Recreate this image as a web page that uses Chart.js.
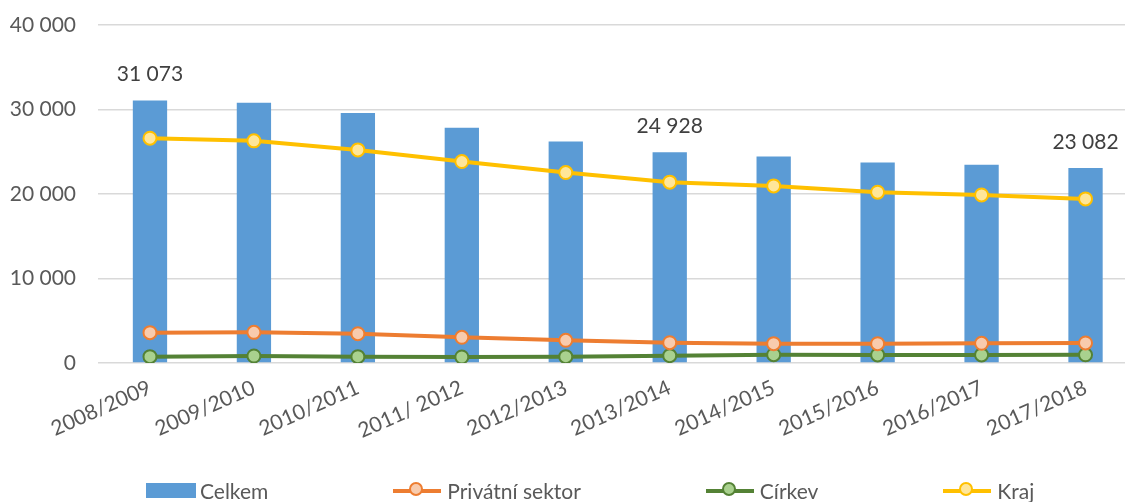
<!doctype html>
<html lang="cs">
<head>
    <meta charset="UTF-8" />
    <title>Celkem / Privátní sektor / Církev / Kraj</title>
    <style>
        html, body {
            margin: 0;
            overflow: hidden;
            background: #fff;
            font-family: 'Lato', sans-serif;
        }
        .chart-box {
            position: relative;
            width: 1146px;
            height: 502px;
        }
        .legend {
            position: absolute;
            left: 146px;
            top: 478px;
            display: flex;
            gap: 125px;
            font-size: 21px;
            color: #595959;
        }
        .legend .item {
            display: flex;
            align-items: center;
        }
        .legend .box {
            width: 50px;
            height: 15px;
            margin-right: 4px;
        }
        .legend .line {
            position: relative;
            width: 48px;
            height: 4px;
            margin-right: 6px;
        }
        .legend .line span {
            position: absolute;
            left: 16px;
            top: -7px;
            width: 14px;
            height: 14px;
            border-radius: 50%;
            box-sizing: border-box;
            border: 2px solid;
        }
    </style>
</head>
<body>
    <div class="chart-box">
        <canvas id="chart" width="1146" height="502"></canvas>
        <div class="legend">
            <div class="item"><div class="box" style="background:#5b9bd5"></div>Celkem</div>
            <div class="item"><div class="line" style="background:#ed7d31"><span style="background:#f8cbad;border-color:#ed7d31"></span></div>Privátní sektor</div>
            <div class="item"><div class="line" style="background:#548235"><span style="background:#a9d18e;border-color:#548235"></span></div>Církev</div>
            <div class="item"><div class="line" style="background:#ffc000"><span style="background:#ffe699;border-color:#ffc000"></span></div>Kraj</div>
        </div>
    </div>

    <script src="https://cdn.jsdelivr.net/npm/chart.js"></script>
    <script>
        const years = ['2008/2009', '2009/2010', '2010/2011', '2011/ 2012', '2012/2013',
                       '2013/2014', '2014/2015', '2015/2016', '2016/2017', '2017/2018'];
        const celkem = [31073, 30790, 29600, 27850, 26200, 24928, 24450, 23720, 23450, 23082];
        const privatni = [3590, 3630, 3470, 3040, 2690, 2400, 2290, 2290, 2330, 2370];
        const cirkev = [750, 830, 750, 710, 750, 870, 980, 960, 960, 970];
        const kraj = [26600, 26290, 25220, 23840, 22540, 21400, 20960, 20210, 19890, 19420];
        const yTicks = [0, 10000, 20000, 30000, 40000];
        const labelledBars = [0, 5, 9]; // only these bars carry a value label

        const fmt = v => String(v).replace(/\B(?=(\d{3})+(?!\d))/g, ' ');

        // value labels above selected bars
        const barLabels = {
            id: 'barLabels',
            afterDatasetsDraw(chart) {
                const ctx = chart.ctx;
                const meta = chart.getDatasetMeta(0);
                ctx.save();
                ctx.font = '21px Lato';
                ctx.fillStyle = '#404040';
                ctx.textAlign = 'center';
                ctx.textBaseline = 'middle';
                labelledBars.forEach(i => {
                    const bar = meta.data[i];
                    ctx.fillText(fmt(celkem[i]), bar.x, bar.y - 26);
                });
                ctx.restore();
            }
        };

        function lineSet(label, data, color, fill) {
            return {
                type: 'line',
                label: label,
                data: data,
                borderColor: color,
                borderWidth: 4,
                pointRadius: 6.5,
                pointBorderWidth: 2,
                pointBackgroundColor: fill,
                pointBorderColor: color,
                tension: 0,
                order: 0
            };
        }

        new Chart(document.getElementById('chart'), {
            type: 'bar',
            data: {
                labels: years,
                datasets: [
                    {
                        label: 'Celkem',
                        data: celkem,
                        backgroundColor: '#5b9bd5',
                        barPercentage: 0.33,
                        categoryPercentage: 1,
                        order: 10
                    },
                    lineSet('Privátní sektor', privatni, '#ed7d31', '#f8cbad'),
                    lineSet('Církev', cirkev, '#548235', '#a9d18e'),
                    lineSet('Kraj', kraj, '#ffc000', '#ffe699')
                ]
            },
            options: {
                responsive: false,
                animation: false,
                layout: { padding: { top: 25, right: 1, bottom: 0, left: 0 } },
                plugins: {
                    legend: { display: false },
                    tooltip: { enabled: false }
                },
                scales: {
                    x: {
                        grid: { display: false },
                        border: { display: false },
                        ticks: {
                            color: '#595959',
                            font: { family: 'Lato', size: 21 },
                            minRotation: 24,
                            maxRotation: 24,
                            padding: 4
                        },
                        afterFit(scale) { scale.height = 139; }
                    },
                    y: {
                        min: 0,
                        max: 40000,
                        afterBuildTicks(scale) { scale.ticks = yTicks.map(v => ({ value: v })); },
                        grid: { color: '#d9d9d9', lineWidth: 1.5, drawTicks: false },
                        border: { display: false },
                        ticks: {
                            color: '#595959',
                            font: { family: 'Lato', size: 21 },
                            padding: 22,
                            callback: v => fmt(v)
                        },
                        afterFit(scale) {
                            scale.width = 98;
                            scale.paddingTop = 0;
                            scale.paddingBottom = 0;
                        }
                    }
                }
            },
            plugins: [barLabels]
        });
    </script>
</body>
</html>
